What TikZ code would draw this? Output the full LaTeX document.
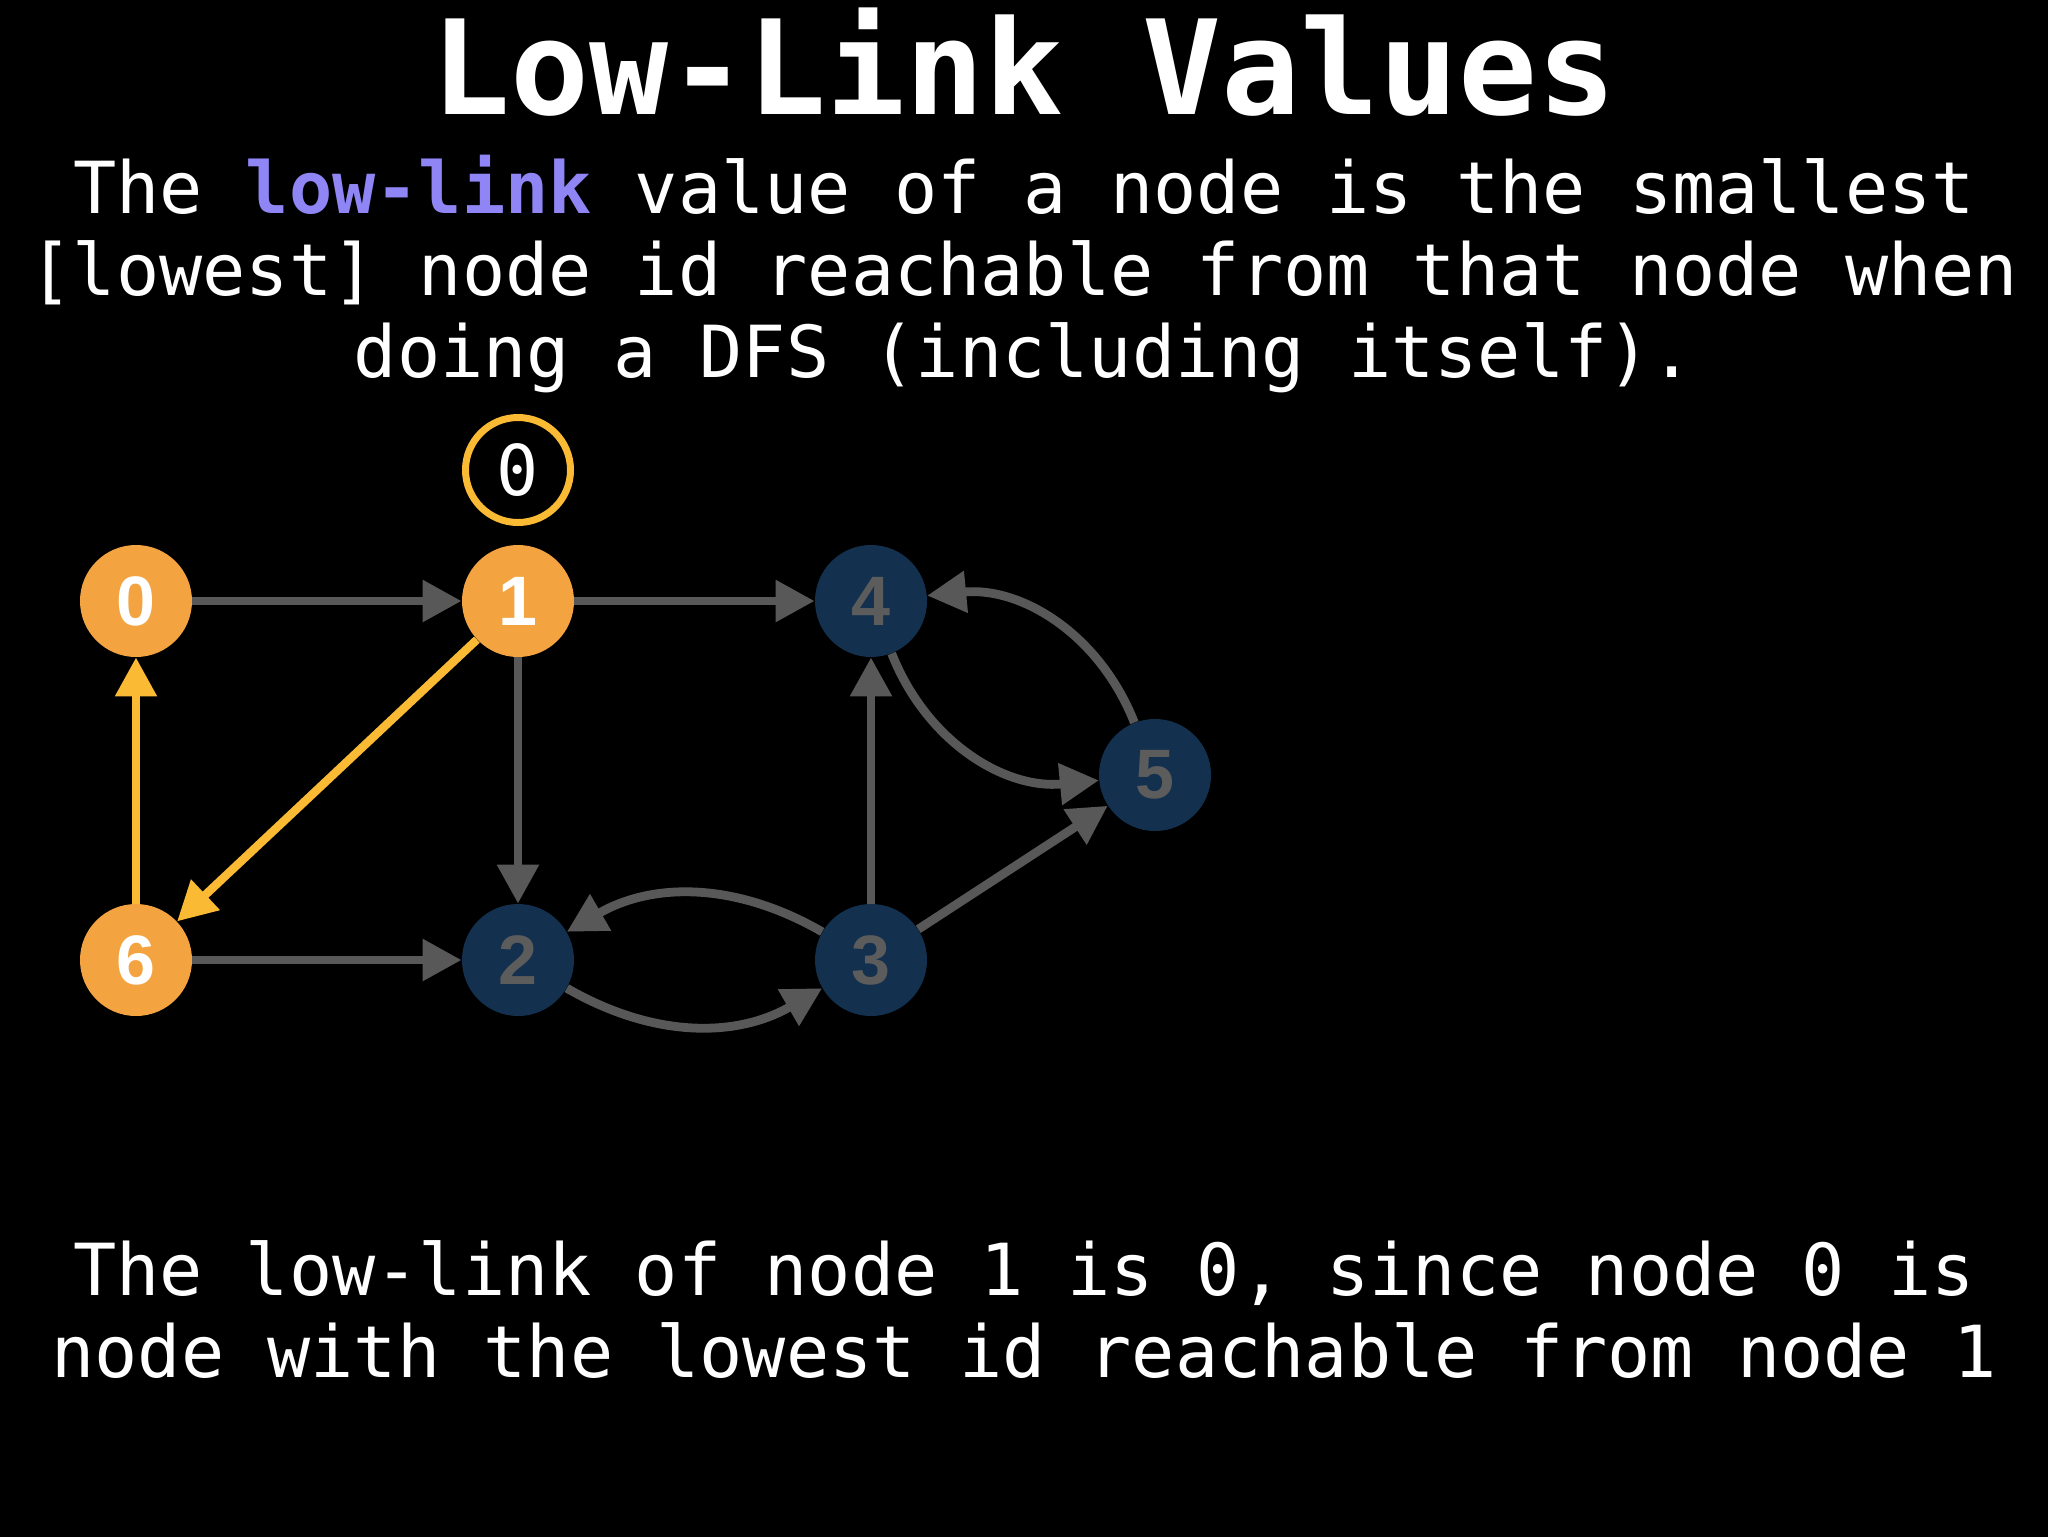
\documentclass[tikz,border=0pt]{standalone}
\usepackage{fontspec}
\setmonofont{DejaVu Sans Mono}
\newfontfamily\nodefont{Liberation Sans}
\usetikzlibrary{arrows.meta}
\definecolor{orangefill}{RGB}{243,163,64}
\definecolor{goldline}{RGB}{251,186,52}
\definecolor{edgegray}{RGB}{88,88,88}
\definecolor{navyfill}{RGB}{19,49,79}
\definecolor{navytext}{RGB}{92,92,92}
\definecolor{lowlink}{RGB}{143,133,245}
\tikzset{
  vertex/.style={circle, minimum size=56pt, inner sep=0pt,
    font=\nodefont\bfseries\fontsize{35}{35}\selectfont},
  litnode/.style={vertex, fill=orangefill, text=white},
  darknode/.style={vertex, fill=navyfill, text=navytext},
  gedge/.style={draw=edgegray, line width=4.4pt,
    -{Triangle[length=19.5pt,width=20pt]}},
  yedge/.style={draw=goldline, line width=4.2pt,
    -{Triangle[length=19.5pt,width=20pt]}},
  bodytext/.style={anchor=base, text=white,
    font=\ttfamily\fontsize{35.9}{40}\selectfont},
  ring/.style={circle, draw=goldline, line width=3.5pt, minimum size=52.5pt,
    inner sep=0pt, text=white, font=\ttfamily\fontsize{35}{35}\selectfont}
}
\begin{document}
\begin{tikzpicture}[x=0.5pt,y=-0.5pt]
\useasboundingbox (0,0) rectangle (2048,1536);
\fill[black] (-20,-20) rectangle (2068,1556);

% title and texts
\node[anchor=base, text=white, font=\ttfamily\bfseries\fontsize{65.6}{70}\selectfont] (title) at (1024,114) {Low-Link Values};
\node[bodytext] (t1) at (1024,213) {The \textcolor{lowlink}{\bfseries low-link} value of a node is the smallest};
\node[bodytext] (t2) at (1024,295) {[lowest] node id reachable from that node when};
\node[bodytext] (t3) at (1024,377) {doing a DFS (including itself).};
\node[bodytext] (b1) at (1024,1295) {The low-link of node 1 is 0, since node 0 is};
\node[bodytext] (b2) at (1024,1377) {node with the lowest id reachable from node 1};

% graph nodes
\node[litnode] (n0) at (136,601) {0};
\node[litnode] (n1) at (518,601) {1};
\node[darknode] (n4) at (871,601) {4};
\node[darknode] (n5) at (1155,775) {5};
\node[litnode] (n6) at (136,960) {6};
\node[darknode] (n2) at (518,960) {2};
\node[darknode] (n3) at (871,960) {3};

\node[ring] (low1) at (518,470) {0};

% edges
\draw[gedge] (n0) -- (n1);
\draw[gedge] (n1) -- (n4);
\draw[gedge] (n1) -- (n2);
\draw[yedge] (n1) -- (n6);
\draw[yedge] (n6) -- (n0);
\draw[gedge] (n6) -- (n2);
\draw[gedge] (n2) to[bend right=30] (n3);
\draw[gedge] (n3) to[bend right=30] (n2);
\draw[gedge] (n3) -- (n4);
\draw[gedge] (n3) -- (n5);
\draw[gedge] (n4) to[bend right=37] (n5);
\draw[gedge] (n5) to[bend right=37] (n4);
\end{tikzpicture}
\end{document}
